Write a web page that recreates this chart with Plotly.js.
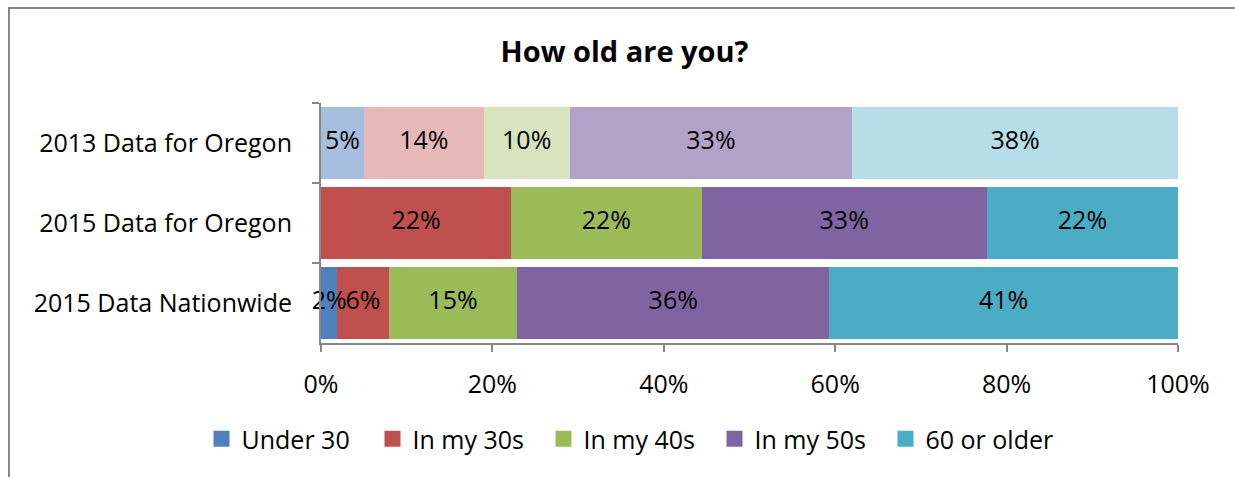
<!DOCTYPE html>
<html>
<head>
<meta charset="utf-8">
<script src="https://cdn.plot.ly/plotly-3.0.1.min.js"></script>
<style>
  html, body { margin: 0; padding: 0; background: #ffffff; }
  #wrap { position: relative; width: 1235px; height: 477px; overflow: hidden; }
  #frame { position: absolute; left: 8px; top: 7px; width: 1300px; height: 600px;
           border-left: 2px solid #878787; border-top: 2px solid #878787; box-sizing: border-box; pointer-events: none; }
  #chart { position: absolute; left: 0; top: 0; width: 1235px; height: 477px; }
</style>
</head>
<body>
<div id="wrap">
  <div id="chart"></div>
  <div id="frame"></div>
</div>
<script>
// ---- data ----
const categories = ["2013 Data for Oregon", "2015 Data for Oregon", "2015 Data Nationwide"];
const seriesNames = ["Under 30", "In my 30s", "In my 40s", "In my 50s", "60 or older"];
const under30 = [5, 0, 1.9];
const in30s   = [14, 22.2, 6.0];
const in40s   = [10, 22.2, 15.0];
const in50s   = [33, 33.3, 36.4];
const over60  = [38, 22.3, 40.7];
const seriesValues = [under30, in30s, in40s, in50s, over60];
// 2015 colours (legend) and lighter tints used for the 2013 bar
const mainColors  = ["#4F81BD", "#C0504D", "#9BBB59", "#8064A2", "#4BACC6"];
const lightColors = ["#A7BFDE", "#E6B9B8", "#D7E4BD", "#B3A2C7", "#B7DEE8"];

const FONT = "'Open Sans', 'Noto Sans', sans-serif";
const FS = 25;

function makeTrace(i, idxs, colors) {
  return {
    type: "bar",
    orientation: "h",
    name: seriesNames[i],
    legendgroup: seriesNames[i],
    showlegend: false,
    y: idxs.map(k => categories[k]),
    x: idxs.map(k => seriesValues[i][k]),
    marker: { color: colors[i], line: { width: 0 } },
    hoverinfo: "skip"
  };
}

const traces = [];
// 2013 bar in lighter tints
seriesNames.forEach((n, i) => traces.push(makeTrace(i, [0], lightColors)));
// 2015 bars in main colours
seriesNames.forEach((n, i) => traces.push(makeTrace(i, [1, 2], mainColors)));

// data labels on top of all bars, centred on each segment
const lblX = [], lblY = [], lblT = [];
categories.forEach((cat, k) => {
  let cum = 0;
  seriesValues.forEach(vals => {
    const v = vals[k];
    if (v > 0) {
      lblX.push(cum + v / 2);
      lblY.push(cat);
      lblT.push(Math.round(v) + "%");
    }
    cum += v;
  });
});
traces.push({
  type: "scatter",
  mode: "text",
  x: lblX,
  y: lblY,
  text: lblT,
  textposition: "middle center",
  textfont: { family: FONT, size: FS, color: "#000000" },
  showlegend: false,
  cliponaxis: false,
  hoverinfo: "skip"
});

// legend entries (square keys in the main colours)
seriesNames.forEach((n, i) => traces.push({
  type: "scatter",
  mode: "markers",
  name: n,
  legendgroup: n,
  x: [null],
  y: [null],
  marker: { symbol: "square", size: 16, color: mainColors[i], line: { width: 0 } },
  showlegend: true,
  hoverinfo: "skip"
}));

const layout = {
  width: 1235,
  height: 477,
  margin: { l: 321, r: 57, t: 103, b: 134, pad: 0 },
  paper_bgcolor: "rgba(0,0,0,0)",
  plot_bgcolor: "rgba(0,0,0,0)",
  barmode: "stack",
  bargap: 0.1,
  font: { family: FONT, size: FS, color: "#000000" },
  title: {
    text: "<b>How old are you?</b>",
    font: { family: FONT, size: 29, color: "#000000" },
    xref: "container", x: 624.5 / 1235, xanchor: "center",
    yref: "container", y: 1 - 52 / 477, yanchor: "middle"
  },
  xaxis: {
    range: [0, 100],
    tickvals: [0, 20, 40, 60, 80, 100],
    ticktext: ["0%", "20%", "40%", "60%", "80%", "100%"],
    showgrid: false,
    zeroline: false,
    showline: true,
    linecolor: "#878787",
    linewidth: 2,
    ticks: "outside",
    ticklen: 7,
    tickwidth: 2,
    tickcolor: "#878787",
    ticklabelstandoff: 11,
    tickfont: { family: FONT, size: FS, color: "#000000" },
    fixedrange: true
  },
  yaxis: {
    type: "category",
    categoryorder: "array",
    categoryarray: categories,
    autorange: "reversed",
    showgrid: false,
    zeroline: false,
    showline: true,
    linecolor: "#878787",
    linewidth: 2,
    ticks: "outside",
    tickson: "boundaries",
    ticklen: 7,
    tickwidth: 2,
    tickcolor: "#878787",
    ticklabelstandoff: 22,
    tickfont: { family: FONT, size: FS, color: "#000000" },
    fixedrange: true
  },
  showlegend: true,
  legend: {
    orientation: "h",
    xref: "container", x: 629 / 1235, xanchor: "center",
    yref: "container", y: 1 - 439 / 477, yanchor: "middle",
    font: { family: FONT, size: FS, color: "#000000" },
    traceorder: "normal",
    entrywidth: 126,
    entrywidthmode: "pixels",
    itemclick: false,
    itemdoubleclick: false,
    bgcolor: "rgba(0,0,0,0)"
  }
};

Plotly.newPlot("chart", traces, layout, { staticPlot: true, displayModeBar: false });
</script>
</body>
</html>
